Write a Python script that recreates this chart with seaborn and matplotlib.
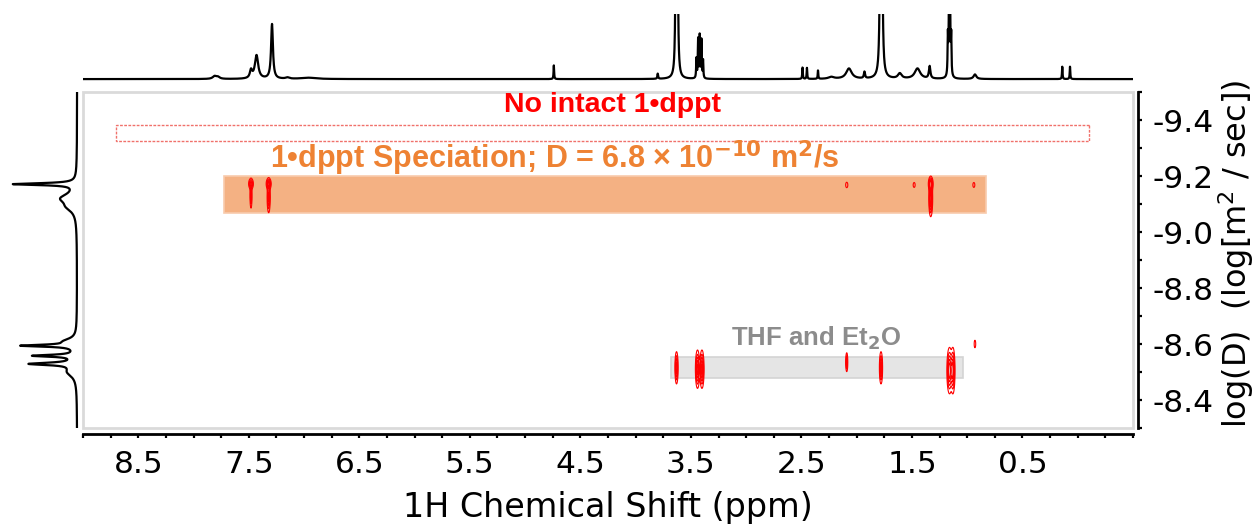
import numpy as np
import pandas as pd
import matplotlib
matplotlib.use("Agg")
import matplotlib.pyplot as plt
import seaborn as sns
from matplotlib.patches import Rectangle
from matplotlib.ticker import MultipleLocator, FixedLocator

# ---------------- data ----------------
# 1H projection (top): peak positions (ppm), heights (relative), half widths (ppm)
h1_ppm    = [7.81, 7.78, 7.48, 7.43, 7.29, 7.15, 6.96, 4.74, 3.80, 3.635, 3.622,
             3.45, 3.435, 3.42, 3.405, 3.39, 2.49, 2.45, 2.35, 2.23, 2.07, 1.93, 1.785,
             1.772, 1.61, 1.45, 1.34, 1.175, 1.165, 1.16, 1.155, 1.145, 0.93, 0.14, 0.07]
h1_height = [0.04, 0.03, 0.12, 0.36, 0.84, 0.02, 0.02, 0.21, 0.08, 3.0, 3.0,
             0.30, 0.60, 0.66, 0.58, 0.28, 0.18, 0.17, 0.13, 0.03, 0.16, 0.10, 3.0,
             3.0, 0.08, 0.16, 0.19, 0.58, 0.60, 3.0, 0.60, 0.58, 0.07, 0.19, 0.19]
h1_width  = [0.02, 0.02, 0.012, 0.018, 0.010, 0.02, 0.08, 0.003, 0.004, 0.005, 0.005,
             0.003, 0.003, 0.003, 0.003, 0.003, 0.003, 0.003, 0.003, 0.03, 0.03, 0.006, 0.006,
             0.006, 0.02, 0.03, 0.008, 0.003, 0.003, 0.003, 0.003, 0.003, 0.015, 0.003, 0.003]

# DOSY projection (left): log(D) positions, heights, half widths
dosy_logD   = [-9.171, -9.12, -9.09, -8.61, -8.594, -8.558, -8.529, -8.50]
dosy_height = [0.86, 0.20, 0.10, 0.15, 0.72, 0.58, 0.62, 0.12]
dosy_width  = [0.004, 0.02, 0.02, 0.012, 0.004, 0.004, 0.005, 0.02]

# 2D cross peaks (ppm, log D, amplitude, width in ppm, width in log D)
cross_ppm   = [7.48, 7.48, 7.32, 7.32, 2.09, 1.48, 1.33, 1.33, 0.94,
               3.63, 3.44, 3.40, 2.09, 1.78, 1.16, 1.13, 0.93]
cross_logD  = [-9.172, -9.13, -9.172, -9.125, -9.168, -9.168, -9.172, -9.12, -9.168,
               -8.515, -8.51, -8.51, -8.535, -8.515, -8.505, -8.505, -8.60]
cross_amp   = [0.8, 0.6, 1.0, 0.9, 0.25, 0.22, 1.2, 1.3, 0.22,
               1.0, 1.2, 1.2, 0.7, 1.0, 1.3, 1.3, 0.3]
cross_sppm  = [0.011, 0.005, 0.011, 0.007, 0.008, 0.008, 0.010, 0.008, 0.008,
               0.007, 0.009, 0.009, 0.005, 0.007, 0.011, 0.009, 0.005]
cross_slogD = [0.010, 0.025, 0.010, 0.028, 0.008, 0.008, 0.012, 0.030, 0.008,
               0.028, 0.032, 0.032, 0.018, 0.028, 0.038, 0.038, 0.010]

x_ticks = [8.5, 7.5, 6.5, 5.5, 4.5, 3.5, 2.5, 1.5, 0.5]
y_ticks = [-9.4, -9.2, -9.0, -8.8, -8.6, -8.4]

label_none = "No intact 1•dppt"
label_spec = r"1•dppt Speciation; D = 6.8 × 10$^{\mathbf{-10}}$ m$^{\mathbf{2}}$/s"
label_solv = r"THF and Et$_{\mathbf{2}}$O"
x_title = "1H Chemical Shift (ppm)"
y_title = r"log(D)  (log[m$^2$ / sec])"

# annotation boxes: (ppm_left, ppm_right, logD_top, logD_bottom)
box_none = (8.70, -0.10, -9.382, -9.325)
box_spec = (7.72, 0.83, -9.200, -9.068)
box_solv = (3.68, 1.04, -8.554, -8.479)

# ---------------- style ----------------
sns.set_style("white")
plt.rcParams['font.family'] = ['DejaVu Sans']
plt.rcParams['axes.unicode_minus'] = False
plt.rcParams['text.color'] = 'black'
plt.rcParams['axes.labelcolor'] = 'black'
plt.rcParams['xtick.color'] = 'black'
plt.rcParams['ytick.color'] = 'black'
plt.rcParams['mathtext.fontset'] = 'custom'
plt.rcParams['mathtext.rm'] = 'DejaVu Sans'
plt.rcParams['mathtext.bf'] = 'Liberation Sans Narrow:bold'
NARROW = ['Liberation Sans Narrow', 'Liberation Sans', 'DejaVu Sans']

W, H = 1254, 529
fig = plt.figure(figsize=(W / 100, H / 100), dpi=100)

def fa(x0, y0, x1, y1):
    return [x0 / W, 1 - y1 / H, (x1 - x0) / W, (y1 - y0) / H]

ax = fig.add_axes(fa(83, 92, 1133, 428))
axt = fig.add_axes(fa(83, 14, 1133, 83), sharex=ax)
axl = fig.add_axes(fa(5, 92, 80, 428), sharey=ax)

XLIM = (9.0, -0.5)
YLIM = (-9.5, -8.3)

# ---- top 1H projection ----
ppm = np.linspace(XLIM[0], XLIM[1], 8000)
spec = np.zeros_like(ppm)
for p, h, w in zip(h1_ppm, h1_height, h1_width):
    spec += h * w**2 / ((ppm - p) ** 2 + w**2)
sns.lineplot(x=ppm, y=spec, ax=axt, color='black', lw=1.6, estimator=None, sort=False)
axt.set_ylim(-0.06, 1.0)
axt.axis('off')

# ---- left DOSY projection ----
ld = np.linspace(YLIM[0], YLIM[1], 4000)
proj = np.zeros_like(ld)
for d, h, w in zip(dosy_logD, dosy_height, dosy_width):
    proj += h * w**2 / ((ld - d) ** 2 + w**2)
sns.lineplot(x=proj, y=ld, ax=axl, color='black', lw=1.6, estimator=None, sort=False, orient='y')
axl.set_xlim(1.0, -0.04)
axl.axis('off')

# ---- main 2D panel ----
ax.set_xlim(*XLIM)
ax.set_ylim(YLIM[1], YLIM[0])

def add_box(b, fc, ec, ls='-', lw=1.0, z=1):
    x0, x1, y0, y1 = b
    ax.add_patch(Rectangle((min(x0, x1), min(y0, y1)), abs(x1 - x0), abs(y1 - y0),
                           facecolor=fc, edgecolor=ec, linestyle=ls, lw=lw, zorder=z))

add_box(box_none, 'none', '#F0716B', ls=(0, (2.0, 1.0)), lw=1.0)
add_box(box_spec, '#F4B183', '#F8CBAD', lw=1.2)
add_box(box_solv, '#E5E5E5', '#D4D4D4', lw=1.2)

# contour field
gx = np.linspace(XLIM[0], XLIM[1], 3200)
gy = np.linspace(YLIM[0], YLIM[1], 700)
GX, GY = np.meshgrid(gx, gy)
Z = np.zeros_like(GX)
for p, d, a, sx, sy in zip(cross_ppm, cross_logD, cross_amp, cross_sppm, cross_slogD):
    Z += a * np.exp(-((GX - p) ** 2) / (2 * sx**2) - ((GY - d) ** 2) / (2 * sy**2))
ax.contour(GX, GY, Z, levels=[0.12, 0.3, 0.5, 0.75, 1.0], colors='#FF0000',
           linewidths=0.8, zorder=3)

ax.text(4.21, -9.452, label_none, color='#FF0000', fontsize=20.5, fontweight='bold',
        family=NARROW, ha='center', va='center', zorder=4)
ax.text(4.73, -9.262, label_spec, color='#EE8233', fontsize=22, fontweight='bold',
        family=NARROW, ha='center', va='center', zorder=4)
ax.text(2.37, -8.62, label_solv, color='#8C8C8C', fontsize=18.5, fontweight='bold',
        family=NARROW, ha='center', va='center', zorder=4)

# frame and axes
for s in ['left', 'top']:
    ax.spines[s].set_visible(False)
for s in ['bottom', 'right']:
    ax.spines[s].set_visible(True)
    ax.spines[s].set_color('black')
    ax.spines[s].set_linewidth(2.0)
ax.spines['bottom'].set_position(('outward', 4.5))
ax.spines['right'].set_position(('outward', 3.8))
ax.add_patch(Rectangle((0, 0), 1, 1, transform=ax.transAxes, fill=False,
                       edgecolor='#DADADA', lw=2.0, clip_on=False, zorder=0.5))

ax.xaxis.set_major_locator(FixedLocator(x_ticks))
ax.xaxis.set_minor_locator(MultipleLocator(0.25))
ax.yaxis.set_major_locator(FixedLocator(y_ticks))
ax.yaxis.set_minor_locator(MultipleLocator(0.1))
ax.set_xticklabels([f"{v:.1f}" for v in x_ticks])
ax.set_yticklabels([f"{v:.1f}" for v in y_ticks])
ax.yaxis.tick_right()
ax.yaxis.set_label_position('right')
ax.tick_params(axis='x', which='both', bottom=True, top=False, direction='out',
               length=3, width=1.6, labelsize=22.5, pad=8, color='black', labelcolor='black')
ax.tick_params(axis='y', which='both', right=True, left=False, direction='out',
               length=3, width=1.6, labelsize=22.5, pad=7, color='black', labelcolor='black')
ax.set_xlabel(x_title, fontsize=24, labelpad=9, color='black')
ax.set_ylabel(y_title, fontsize=23, labelpad=2, color='black', loc='bottom')
ax.yaxis.label.set_horizontalalignment('left')
ax.set_facecolor('white')

fig.savefig('out.png', dpi=100)
